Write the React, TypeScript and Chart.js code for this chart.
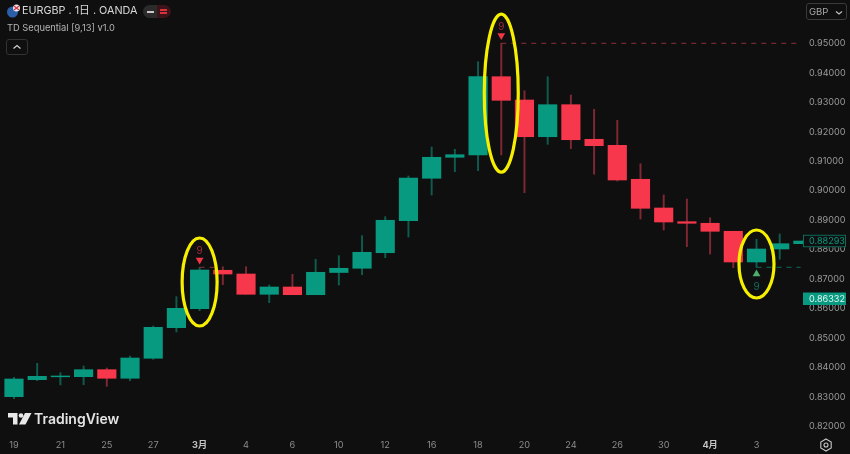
import { Chart, registerables } from "chart.js"
import React, { useEffect, useRef } from "react"

Chart.register(...registerables)

const FONT = 'Inter, "Noto Sans CJK JP", sans-serif'
const BG = "#0f0f0f"
const UP = "#089981"
const DOWN = "#f7374b"
const UP_WICK = "#0f5c4e"
const DOWN_WICK = "#7f2733"

const dates = ["19", "20", "21", "24", "25", "26", "27", "28", "3月", "3", "4", "5", "6", "7", "10", "11", "12", "13", "16", "17", "18", "19", "20", "23", "24", "25", "26", "27", "30", "31", "4月", "2", "3", "4", "7"]

const opens = [0.83007, 0.83584, 0.83682, 0.83686, 0.83924, 0.83632, 0.84311, 0.8535, 0.85995, 0.87299, 0.87173, 0.86484, 0.86732, 0.8647, 0.87224, 0.87367, 0.87896, 0.88983, 0.90423, 0.91136, 0.91214, 0.93873, 0.93081, 0.91835, 0.92922, 0.91747, 0.91543, 0.90389, 0.89414, 0.88949, 0.88895, 0.88623, 0.87581, 0.88022, 0.88202]
const highs = [0.83665, 0.84141, 0.83822, 0.84049, 0.83981, 0.84389, 0.85407, 0.86402, 0.87401, 0.87421, 0.87421, 0.868, 0.87163, 0.87672, 0.87795, 0.88474, 0.89119, 0.90501, 0.91486, 0.91407, 0.94382, 0.95007, 0.93397, 0.93873, 0.93251, 0.92766, 0.92392, 0.90918, 0.89856, 0.8972, 0.89085, 0.88623, 0.88351, 0.88531, 0.88293]
const lows = [0.82939, 0.8355, 0.83404, 0.83414, 0.8336, 0.8355, 0.84277, 0.85204, 0.85927, 0.8681, 0.86484, 0.86199, 0.8647, 0.8647, 0.868, 0.87149, 0.87727, 0.8843, 0.89856, 0.90647, 0.90681, 0.91214, 0.89934, 0.91577, 0.91428, 0.90559, 0.90331, 0.89041, 0.88667, 0.881, 0.87852, 0.87387, 0.87401, 0.87672, 0.88202]
const closes = [0.83608, 0.83699, 0.8371, 0.83924, 0.83632, 0.84321, 0.85363, 0.86008, 0.87309, 0.87173, 0.86484, 0.86732, 0.8647, 0.87231, 0.87367, 0.8791, 0.88997, 0.90433, 0.91136, 0.91224, 0.93873, 0.93071, 0.91835, 0.92922, 0.91733, 0.9153, 0.90365, 0.89404, 0.88939, 0.88895, 0.88623, 0.87581, 0.88022, 0.88202, 0.88293]

// TD Sequential "9" signals: bar index, marker price, label price
const signalBars = [8, 21, 32]
const signalMarks = [0.87649, 0.95272, 0.87173]
const signalLabels = [0.87954, 0.9556, 0.86731]
const signalLevels = [0.87401, 0.95007, 0.87401]
const levelEnds = [8.7, 33.9, 33.9]

// highlight rings: centre bar, centre price, radii in px
const ringBars = [8, 21, 32]
const ringPrices = [0.86902, 0.93313, 0.87513]
const ringRx = [17.5, 17, 17.5]
const ringRy = [44, 79, 34]

const lastPrice = 0.88293
const lastBoxPrice = 0.86332

const overlay = {
  id: "overlay",
  afterDraw(chart: any) {
    const { ctx, scales } = chart
    const x = scales.x
    const y = scales.y
    ctx.save()

    ctx.font = `10px ${FONT}`
    ctx.textAlign = "center"
    ctx.textBaseline = "middle"
    signalBars.forEach((bar, i) => {
      ctx.fillStyle = i === 2 ? "#0f6f5f" : "#a02c3a"
      ctx.fillText("9", x.getPixelForValue(bar), y.getPixelForValue(signalLabels[i]))
    })

    ctx.strokeStyle = "#f6f000"
    ctx.lineWidth = 3.2
    ringBars.forEach((bar, i) => {
      ctx.beginPath()
      ctx.ellipse(x.getPixelForValue(bar), y.getPixelForValue(ringPrices[i]), ringRx[i], ringRy[i], 0, 0, Math.PI * 2)
      ctx.stroke()
    })

    // current price tags on the axis
    const tagX = 803
    const tagW = 43
    const tagH = 12.5
    const boxY = y.getPixelForValue(lastBoxPrice)
    const lastY = y.getPixelForValue(lastPrice)
    ctx.font = `9.1px ${FONT}`
    ctx.textAlign = "left"
    ctx.fillStyle = BG
    ctx.fillRect(tagX, lastY - tagH / 2, tagW, tagH)
    ctx.strokeStyle = "#0e6b5a"
    ctx.lineWidth = 1
    ctx.strokeRect(tagX + 0.5, lastY - tagH / 2 + 0.5, tagW - 1, tagH - 1)
    ctx.fillStyle = UP
    ctx.fillText(lastPrice.toFixed(5), 809, lastY + 0.5)

    ctx.fillStyle = UP
    ctx.fillRect(tagX, boxY - tagH / 2, tagW, tagH)
    ctx.fillStyle = "#e8f5f2"
    ctx.fillText(lastBoxPrice.toFixed(5), 809, boxY + 0.5)
    ctx.restore()
  },
}

const textStyle = (left: number, top: number, size: number, color: string): React.CSSProperties => ({
  position: "absolute",
  left,
  top,
  fontSize: size,
  color,
  fontFamily: FONT,
  lineHeight: 1,
  whiteSpace: "nowrap",
})

const noPadding = (s: any) => {
  s.paddingLeft = 0
  s.paddingRight = 0
  s.paddingTop = 0
  s.paddingBottom = 0
}

export default function App() {
  const canvasRef = useRef<HTMLCanvasElement>(null)

  useEffect(() => {
    document.body.style.margin = "0"
    document.body.style.background = BG
    const ctx = canvasRef.current?.getContext("2d")
    if (!ctx) return

    const colors = closes.map((c, i) => (c >= opens[i] ? UP : DOWN))
    const wickColors = closes.map((c, i) => (c >= opens[i] ? UP_WICK : DOWN_WICK))

    const chart = new Chart(ctx, {
      type: "bar",
      data: {
        datasets: [
          {
            label: "wick",
            data: dates.map((_, i) => ({ x: i, y: [lows[i], highs[i]] })) as any,
            backgroundColor: wickColors,
            barThickness: 1.3,
            grouped: false,
            order: 3,
          },
          {
            label: "body",
            data: dates.map((_, i) => ({ x: i, y: [opens[i], closes[i]] })) as any,
            backgroundColor: colors,
            borderColor: colors,
            borderWidth: 0,
            borderSkipped: false,
            barThickness: 18.5,
            grouped: false,
            order: 2,
          },
          ...signalBars.map((bar, i) => ({
            type: "line" as const,
            label: "level",
            data: [
              { x: bar, y: signalLevels[i] },
              { x: levelEnds[i], y: signalLevels[i] },
            ],
            borderColor: i === 2 ? "#0e6b5a" : "#8a2f3a",
            borderWidth: 1,
            borderDash: [5, 5],
            pointRadius: 0,
            order: 1,
          })),
          ...signalBars.map((bar, i) => ({
            type: "scatter" as const,
            label: "mark",
            data: [{ x: bar, y: signalMarks[i] }],
            pointStyle: "triangle",
            pointRotation: i === 2 ? 0 : 180,
            pointRadius: 4.5,
            backgroundColor: i === 2 ? "#4caf6a" : "#f23645",
            borderWidth: 0,
            order: 0,
          })),
        ] as any,
      },
      options: {
        responsive: false,
        animation: false,
        events: [],
        layout: { padding: 0, autoPadding: false },
        plugins: { legend: { display: false }, tooltip: { enabled: false } },
        scales: {
          x: {
            type: "linear",
            offset: false,
            min: -0.603,
            max: 34.09,
            grid: { display: false, drawTicks: false },
            border: { display: false },
            afterFit: (s: any) => {
              s.height = 20
              noPadding(s)
            },
            ticks: {
              stepSize: 2,
              includeBounds: false,
              autoSkip: false,
              maxRotation: 0,
              padding: 6,
              callback: (v: any) => (v < 34 ? dates[v] ?? "" : ""),
              color: (c: any) => (String(dates[c.tick?.value]).includes("月") ? "#c4c4c4" : "#8c8c8c"),
              font: (c: any) => ({
                family: FONT,
                size: 9.2,
                weight: String(dates[c.tick?.value]).includes("月") ? "bold" : "normal",
              }),
            },
          },
          y: {
            position: "right",
            min: 0.8174,
            max: 0.96477,
            grid: { display: false, drawTicks: false },
            border: { display: false },
            afterFit: (s: any) => {
              s.width = 45
              noPadding(s)
            },
            ticks: {
              stepSize: 0.01,
              includeBounds: false,
              autoSkip: false,
              padding: 4,
              color: "#9a9a9a",
              font: { family: FONT, size: 9.1 },
              callback: (v: any) => (v > 0.955 ? null : Number(v).toFixed(5)),
            },
          },
        },
      } as any,
      plugins: [overlay],
    })

    return () => chart.destroy()
  }, [])

  return (
    <div style={{ position: "relative", width: 850, height: 454, background: BG, overflow: "hidden" }}>
      <canvas ref={canvasRef} width={850} height={454} style={{ display: "block" }} />

      <svg width={14} height={14} style={{ position: "absolute", left: 6, top: 4 }} viewBox="0 0 14 14">
        <circle cx={6.5} cy={8} r={5.5} fill="#2a5fa8" />
        <circle cx={10.5} cy={4} r={3.5} fill="#e8e8e8" />
        <path d="M8 2 L13 6 M13 2 L8 6" stroke="#d8323f" strokeWidth={1.2} />
      </svg>
      <div style={textStyle(22, 6, 10.8, "#d8d8d8")}>EURGBP . 1日 . OANDA</div>
      <div style={{ position: "absolute", left: 143, top: 5, width: 14, height: 13, background: "#2b2b2b", borderRadius: "7px 0 0 7px" }}>
        <div style={{ position: "absolute", left: 4, top: 5.5, width: 7, height: 2, background: "#c8c8c8" }} />
      </div>
      <div style={{ position: "absolute", left: 157, top: 5, width: 14, height: 13, background: "#3a1418", borderRadius: "0 7px 7px 0" }}>
        <div style={{ position: "absolute", left: 3, top: 4, width: 7, height: 1.5, background: "#d8323f" }} />
        <div style={{ position: "absolute", left: 3, top: 7, width: 7, height: 1.5, background: "#d8323f" }} />
      </div>
      <div style={textStyle(7, 23, 9.3, "#b4b4b4")}>TD Sequential [9,13] v1.0</div>
      <div style={{ position: "absolute", left: 6, top: 39, width: 20, height: 14, border: "1px solid #333", borderRadius: 3 }}>
        <svg width={20} height={14} style={{ display: "block" }}>
          <path d="M6.5 8.5 L10 5.5 L13.5 8.5" stroke="#d0d0d0" strokeWidth={1.2} fill="none" />
        </svg>
      </div>

      <div style={{ position: "absolute", left: 806, top: 3, width: 41, height: 17, border: "1px solid #3a3a3a", borderRadius: 3, boxSizing: "border-box" }}>
        <div style={textStyle(2, 3, 9.5, "#a8a8a8")}>GBP</div>
        <svg width={8} height={6} style={{ position: "absolute", right: 3, top: 6 }}>
          <path d="M1 1.5 L4 4 L7 1.5" stroke="#c0c0c0" strokeWidth={1.2} fill="none" />
        </svg>
      </div>

      <svg width={24} height={14} style={{ position: "absolute", left: 8, top: 412 }} viewBox="0 0 24 14">
        <path d="M0 1 H9.5 V12.5 H5 V5.5 H0 Z" fill="#e8e8e8" />
        <circle cx={13} cy={3.5} r={2.3} fill="#e8e8e8" />
        <path d="M17 1 H23.5 L17.5 12.5 H11 Z" fill="#e8e8e8" />
      </svg>
      <div style={{ ...textStyle(34, 412, 14, "#e4e4e4"), fontWeight: 600 }}>TradingView</div>

      <svg width={14} height={14} style={{ position: "absolute", left: 819, top: 438 }} viewBox="0 0 14 14">
        <path d="M7 1 L12.2 4 V10 L7 13 L1.8 10 V4 Z" stroke="#c8c8c8" strokeWidth={1.1} fill="none" />
        <circle cx={7} cy={7} r={2} stroke="#c8c8c8" strokeWidth={1.1} fill="none" />
      </svg>
    </div>
  )
}
